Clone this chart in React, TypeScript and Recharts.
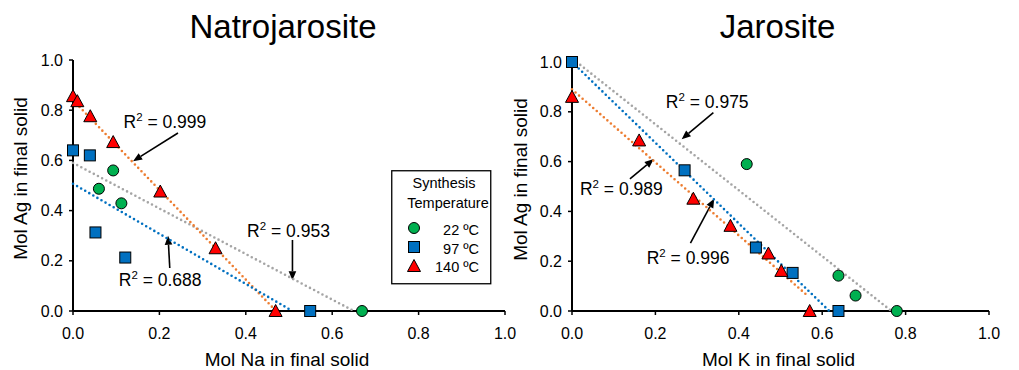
import { Legend, ReferenceDot, ReferenceLine, Scatter, ScatterChart, XAxis, YAxis } from "recharts"

// Natrojarosite: mol Na (x) vs mol Ag (y)
const NA_22_X = [0.06, 0.093, 0.112, 0.669]
const NA_22_Y = [0.487, 0.56, 0.429, 0]
const NA_97_X = [0, 0.039, 0.052, 0.121, 0.549]
const NA_97_Y = [0.64, 0.62, 0.313, 0.213, 0]
const NA_140_X = [0, 0.01, 0.04, 0.093, 0.202, 0.33, 0.469]
const NA_140_Y = [0.856, 0.836, 0.776, 0.673, 0.476, 0.25, 0]

// Jarosite: mol K (x) vs mol Ag (y)
const JA_22_X = [0.419, 0.639, 0.68, 0.779]
const JA_22_Y = [0.59, 0.142, 0.062, 0]
const JA_97_X = [0, 0.27, 0.441, 0.529, 0.639]
const JA_97_Y = [1.0, 0.565, 0.255, 0.153, 0]
const JA_140_X = [0, 0.161, 0.291, 0.38, 0.471, 0.502, 0.57]
const JA_140_Y = [0.86, 0.685, 0.451, 0.342, 0.231, 0.161, 0]

// trend lines (start and end points)
const NA_FIT_22_X = [0, 0.65]
const NA_FIT_22_Y = [0.59, 0]
const NA_FIT_97_X = [0, 0.508]
const NA_FIT_97_Y = [0.507, 0]
const NA_FIT_140_X = [0, 0.47]
const NA_FIT_140_Y = [0.84, 0]
const JA_FIT_22_X = [0.011, 0.766]
const JA_FIT_22_Y = [1.0, 0]
const JA_FIT_97_X = [0, 0.617]
const JA_FIT_97_Y = [1.0, 0]
const JA_FIT_140_X = [0, 0.566]
const JA_FIT_140_Y = [0.89, 0.06]

const TICKS = [0, 0.2, 0.4, 0.6, 0.8, 1.0]
const LEGEND_ITEMS = ["22 ºC", "97 ºC", "140 ºC"]

// R² labels: text anchor (tx, ty) and arrow from (x1, y1) to tip (x2, y2)
const NA_R2 = [
    { r2: "0.999", tx: 0.117, ty: 0.731, x1: 0.243, y1: 0.709, x2: 0.139, y2: 0.597 },
    { r2: "0.953", tx: 0.403, ty: 0.293, x1: 0.508, y1: 0.283, x2: 0.508, y2: 0.123 },
    { r2: "0.688", tx: 0.106, ty: 0.1, x1: 0.224, y1: 0.171, x2: 0.22, y2: 0.3 },
]
const JA_R2 = [
    { r2: "0.975", tx: 0.225, ty: 0.814, x1: 0.339, y1: 0.797, x2: 0.263, y2: 0.69 },
    { r2: "0.989", tx: 0.019, ty: 0.464, x1: 0.139, y1: 0.531, x2: 0.196, y2: 0.61 },
    { r2: "0.996", tx: 0.179, ty: 0.189, x1: 0.284, y1: 0.273, x2: 0.341, y2: 0.451 },
]

const GREEN = "#00B050"
const BLUE = "#0070C0"
const RED = "#FF0000"
const ORANGE = "#ED7D31"
const GRAY = "#A5A5A5"

const pts = (xs: number[], ys: number[]) => xs.map((x, i) => ({ x, y: ys[i] }))

const CircleMark = ({ cx, cy }: any) => (
    <circle cx={cx} cy={cy} r={5.5} fill={GREEN} stroke="#000" strokeWidth={1} />
)
const SquareMark = ({ cx, cy }: any) => (
    <rect x={cx - 5.5} y={cy - 5.5} width={11} height={11} fill={BLUE} stroke="#000" strokeWidth={1} />
)
const TriangleMark = ({ cx, cy }: any) => (
    <polygon
        points={`${cx},${cy - 6.5} ${cx + 6.5},${cy + 5.5} ${cx - 6.5},${cy + 5.5}`}
        fill={RED}
        stroke="#000"
        strokeWidth={1}
    />
)
const NoMark = () => <g />

const Arrow = (p: any) => {
    const { x1, y1, x2, y2 } = p
    const a = Math.atan2(y2 - y1, x2 - x1)
    const c = Math.cos(a)
    const s = Math.sin(a)
    const bx = x2 - 9 * c
    const by = y2 - 9 * s
    return (
        <g>
            <line x1={x1} y1={y1} x2={bx} y2={by} stroke="#000" strokeWidth={1.6} />
            <polygon points={`${x2},${y2} ${bx - 3.8 * s},${by + 3.8 * c} ${bx + 3.8 * s},${by - 3.8 * c}`} fill="#000" />
        </g>
    )
}

const r2Text = (value: string) => (p: any) => (
    <text x={p.cx} y={p.cy} fontSize={17.5} fill="#000">
        R<tspan fontSize={11.5} dy={-7}>2</tspan>
        <tspan dy={7}>{` = ${value}`}</tspan>
    </text>
)

const fitLine = (color: string) => ({
    stroke: color,
    strokeWidth: 2.6,
    strokeDasharray: "0 4.7",
    strokeLinecap: "round" as const,
})

const YLabel = (dx: number) => (props: any) => {
    const vb = props.viewBox
    const x = vb.x + dx
    const y = vb.y + vb.height / 2 - 7
    return (
        <text x={x} y={y} fontSize={19} fill="#000" textAnchor="middle" dominantBaseline="central" transform={`rotate(-90 ${x} ${y})`}>
            Mol Ag in final solid
        </text>
    )
}

const XLabel = (label: string) => (props: any) => {
    const vb = props.viewBox
    return (
        <text x={vb.x + vb.width / 2 - 2} y={vb.y + 55} fontSize={19} fill="#000" textAnchor="middle">
            {label}
        </text>
    )
}

const LegendBox = () => {
    const marks = [CircleMark, SquareMark, TriangleMark]
    return (
        <svg width={101} height={115}>
            <rect x={0.75} y={0.75} width={99} height={113} fill="#fff" stroke="#000" strokeWidth={1.3} />
            <text x={53} y={18} fontSize={14.5} textAnchor="middle" fill="#000">Synthesis</text>
            <text x={57} y={38} fontSize={14.5} textAnchor="middle" fill="#000">Temperature</text>
            {LEGEND_ITEMS.map((label, i) => {
                const M = marks[i]
                return (
                    <g key={label}>
                        <M cx={23} cy={58 + i * 19} />
                        <text x={88} y={65 + i * 18.5} fontSize={14.5} textAnchor="end" fill="#000">{label}</text>
                    </g>
                )
            })}
        </svg>
    )
}

const axisProps = {
    type: "number" as const,
    domain: [0, 1],
    ticks: TICKS,
    tickFormatter: (v: number) => v.toFixed(1),
    tick: { fill: "#000", fontSize: 16 },
    axisLine: { stroke: "#000", strokeWidth: 2 },
    tickLine: { stroke: "#000", strokeWidth: 1.5 },
    tickSize: 4,
}

const Panel = (props: {
    width: number
    margin: any
    yWidth: number
    yLabelDx: number
    xLabel: string
    s22: any[]
    s97: any[]
    s140: any[]
    f22: any[]
    f97: any[]
    f140: any[]
    notes: typeof NA_R2
    legend?: boolean
}) => (
    <ScatterChart width={props.width} height={370} margin={props.margin}>
        <XAxis dataKey="x" {...axisProps} height={59} tickMargin={13} label={{ content: XLabel(props.xLabel) }} />
        <YAxis dataKey="y" {...axisProps} width={props.yWidth} tickMargin={6} label={{ content: YLabel(props.yLabelDx) }} />
        <Scatter data={props.f22} line={fitLine(GRAY)} lineType="joint" shape={NoMark} isAnimationActive={false} />
        <Scatter data={props.f140} line={fitLine(ORANGE)} lineType="joint" shape={NoMark} isAnimationActive={false} />
        <Scatter data={props.f97} line={fitLine(BLUE)} lineType="joint" shape={NoMark} isAnimationActive={false} />
        <Scatter data={props.s22} shape={CircleMark} isAnimationActive={false} />
        <Scatter data={props.s97} shape={SquareMark} isAnimationActive={false} />
        <Scatter data={props.s140} shape={TriangleMark} isAnimationActive={false} />
        {props.notes.map((n) => (
            <ReferenceLine
                key={`a-${n.r2}`}
                segment={[{ x: n.x1, y: n.y1 }, { x: n.x2, y: n.y2 }]}
                shape={Arrow}
                ifOverflow="visible"
            />
        ))}
        {props.notes.map((n) => (
            <ReferenceDot key={`t-${n.r2}`} x={n.tx} y={n.ty} shape={r2Text(n.r2)} ifOverflow="visible" />
        ))}
        {props.legend && (
            <Legend
                content={() => <LegendBox />}
                layout="horizontal"
                verticalAlign="middle"
                align="center"
                wrapperStyle={{ left: 391, top: 170, width: 101, height: 115 }}
            />
        )}
    </ScatterChart>
)

const titleStyle = {
    position: "absolute" as const,
    top: 10,
    width: 300,
    textAlign: "center" as const,
    fontSize: 33,
    lineHeight: "33px",
    color: "#000",
}

export default function App() {
    return (
        <div
            style={{
                position: "absolute",
                left: 0,
                top: 0,
                width: 1019,
                height: 370,
                background: "#fff",
                fontFamily: "'Liberation Sans', Arial, sans-serif",
            }}
        >
            <div style={{ ...titleStyle, left: 133 }}>Natrojarosite</div>
            <div style={{ ...titleStyle, left: 627.5 }}>Jarosite</div>
            <div style={{ position: "absolute", left: 0, top: 0 }}>
                <Panel
                    width={530}
                    margin={{ top: 60, right: 25, bottom: 0, left: 0 }}
                    yWidth={73}
                    yLabelDx={20}
                    xLabel="Mol Na in final solid"
                    s22={pts(NA_22_X, NA_22_Y)}
                    s97={pts(NA_97_X, NA_97_Y)}
                    s140={pts(NA_140_X, NA_140_Y)}
                    f22={pts(NA_FIT_22_X, NA_FIT_22_Y)}
                    f97={pts(NA_FIT_97_X, NA_FIT_97_Y)}
                    f140={pts(NA_FIT_140_X, NA_FIT_140_Y)}
                    notes={NA_R2}
                    legend
                />
            </div>
            <div style={{ position: "absolute", left: 500, top: 0 }}>
                <Panel
                    width={519}
                    margin={{ top: 62, right: 30, bottom: 0, left: 0 }}
                    yWidth={72}
                    yLabelDx={20}
                    xLabel="Mol K in final solid"
                    s22={pts(JA_22_X, JA_22_Y)}
                    s97={pts(JA_97_X, JA_97_Y)}
                    s140={pts(JA_140_X, JA_140_Y)}
                    f22={pts(JA_FIT_22_X, JA_FIT_22_Y)}
                    f97={pts(JA_FIT_97_X, JA_FIT_97_Y)}
                    f140={pts(JA_FIT_140_X, JA_FIT_140_Y)}
                    notes={JA_R2}
                />
            </div>
        </div>
    )
}
